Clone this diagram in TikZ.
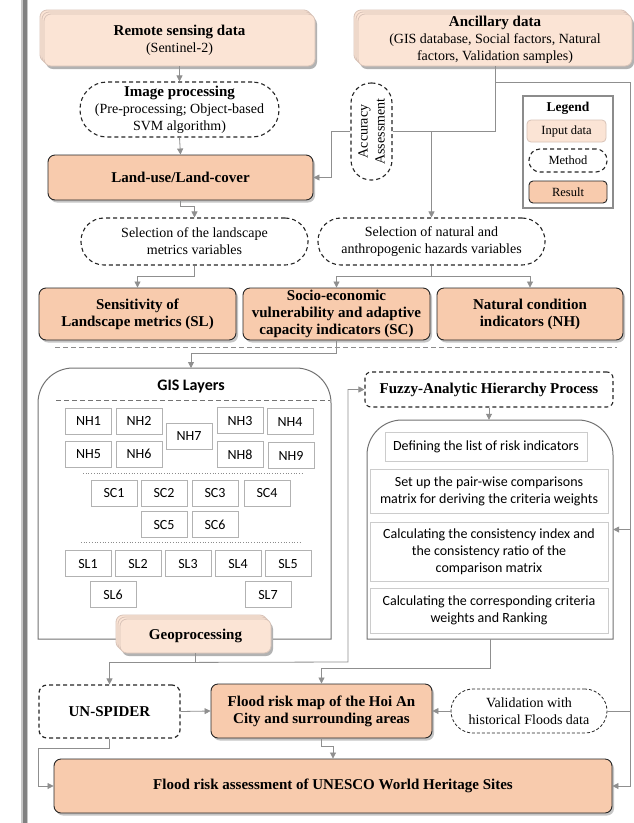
\documentclass[tikz,border=0pt]{standalone}
\usepackage{fontspec}
\setmainfont{Liberation Serif}
\newfontfamily\calibfont{Carlito}
\usetikzlibrary{arrows.meta,shadows}
\definecolor{inc}{HTML}{FBE4D5}
\definecolor{inedge}{HTML}{D8C3B8}
\definecolor{resc}{HTML}{F8CBAD}
\definecolor{lnc}{HTML}{8F8F8F}
\newcommand{\myB}{\fontsize{15}{17}\selectfont\bfseries}
\newcommand{\myR}{\fontsize{14}{17}\selectfont}
\newcommand{\myS}{\calibfont\fontsize{14}{17}\selectfont}
\newcommand{\mySB}{\calibfont\fontsize{16}{18}\selectfont\bfseries}
\newcommand{\myL}{\fontsize{12.5}{14}\selectfont}
\newcommand{\myLB}{\fontsize{13.5}{15}\selectfont\bfseries}
\tikzset{
  inbox/.style={draw=inedge,line width=0.8pt,fill=inc,rounded corners=7pt,inner sep=0pt,align=center,font=\myR},
  resbox/.style={draw=black!85,line width=0.9pt,fill=resc,rounded corners=7pt,inner sep=0pt,align=center,font=\myB},
  resshadow/.style={drop shadow={shadow xshift=2pt,shadow yshift=-2.5pt,fill=black!45}},
  methd/.style={draw=black!85,line width=1.1pt,dash pattern=on 4pt off 3pt,fill=white,inner sep=0pt,align=center,font=\myR},
  gbox/.style={draw=black!30,line width=0.8pt,fill=white,inner sep=0pt,align=center,font=\myS,minimum width=46pt,minimum height=26pt},
  abox/.style={draw=black!20,line width=0.8pt,fill=white,inner sep=0pt,align=center,font=\myS,minimum width=238pt},
  cont/.style={draw=black!55,line width=1pt},
  ln/.style={draw=lnc,line width=0.8pt},
  arr/.style={ln,-{Triangle[length=6pt,width=6pt]}}
}
\newcommand{\stacklayers}[4]{%
  \fill[black!30,rounded corners=7pt] (#1+2,#2+3) rectangle (#3+2,#4+3);
  \filldraw[inbox] (#1-4,#2-4) rectangle (#3-4,#4-4);
  \filldraw[inbox] (#1-2,#2-2) rectangle (#3-2,#4-2);
}
\begin{document}
\begin{tikzpicture}[x=1pt,y=-1pt]
\fill[white] (0,0) rectangle (634,823);
\useasboundingbox (0,0) rectangle (634,823);
% left bar
\fill[black!22] (20.5,0) rectangle (28,823);
\fill[black!50] (22.5,0) rectangle (26.5,823);

% input data
\stacklayers{44}{14}{315}{66}
\node[inbox,minimum width=271pt,minimum height=52pt] (rs) at (179.5,40) {{\myB Remote sensing data}\\(Sentinel-2)};
\stacklayers{358}{14}{632}{66}
\node[inbox,minimum width=274pt,minimum height=52pt] (anc) at (495,40) {{\myB Ancillary data}\\(GIS database, Social factors, Natural\\factors, Validation samples)};

\node[methd,rounded corners=27pt,minimum width=199pt,minimum height=55pt] (imgp) at (179.5,109.5) {{\myB Image processing}\\(Pre-processing; Object-based\\SVM algorithm)};
\node[resbox,resshadow,minimum width=265pt,minimum height=45pt] (lulc) at (180.5,177.5) {Land-use/Land-cover};
\node[methd,rounded corners=20pt,minimum width=41pt,minimum height=97pt] (acc) at (371.5,131.5) {};
\node[rotate=90,align=center,font=\myR,inner sep=0pt] (acctxt) at (acc.center) {Accuracy\\Assessment};

% legend
\node[draw=black!45,line width=1.3pt,minimum width=90pt,minimum height=112pt,inner sep=0pt] (leg) at (568,152) {};
\node[font=\myLB] (legt) at (568,108) {Legend};
\node[inbox,font=\myL,rounded corners=4pt,minimum width=79pt,minimum height=22pt] (legin) at (566.5,131) {Input data};
\node[methd,font=\myL,rounded corners=11pt,minimum width=78pt,minimum height=23pt] (legm) at (568,160.5) {Method};
\node[resbox,font=\myL,rounded corners=4pt,minimum width=78pt,minimum height=22pt] (legr) at (568,192) {Result};

% selections
\node[methd,rounded corners=23pt,minimum width=227pt,minimum height=47pt] (sel1) at (194.5,241.5) {Selection of the landscape\\metrics variables};
\node[methd,rounded corners=23pt,minimum width=227pt,minimum height=47pt] (sel2) at (431.5,241.5) {Selection of natural and\\anthropogenic hazards variables};

% results row
\node[resbox,resshadow,minimum width=197pt,minimum height=52pt] (sl) at (137.5,314) {Sensitivity of\\Landscape metrics (SL)};
\node[resbox,resshadow,minimum width=187pt,minimum height=52pt] (sc) at (336.5,314) {Socio-economic\\vulnerability and adaptive\\capacity indicators (SC)};
\node[resbox,resshadow,minimum width=186pt,minimum height=52pt] (nh) at (530,314) {Natural condition\\indicators (NH)};

\draw[black!45,line width=0.9pt,dash pattern=on 5pt off 3pt] (55,347) -- (617,347);

% GIS container
\node[minimum width=293pt,minimum height=271pt,inner sep=0pt] (gis) at (184.5,503.5) {};
\draw[cont] (38,639) -- (38,403) arc[start angle=180,end angle=90,radius=35pt] -- (296,368) arc[start angle=90,end angle=0,radius=35pt] -- (331,639) -- cycle;
\node[font=\mySB] (gist) at (191,387) {GIS Layers};
\draw[black!55,line width=0.9pt,dash pattern=on 5pt off 3pt] (56,400) -- (330,400);
\node[gbox] (nh1) at (88.5,421) {NH1};
\node[gbox] (nh2) at (139,421) {NH2};
\node[gbox] (nh7) at (189,436.5) {NH7};
\node[gbox] (nh3) at (240,420.5) {NH3};
\node[gbox] (nh4) at (290,421.5) {NH4};
\node[gbox] (nh5) at (88.5,454) {NH5};
\node[gbox] (nh6) at (139,454) {NH6};
\node[gbox] (nh8) at (240,454.5) {NH8};
\node[gbox] (nh9) at (291,455.5) {NH9};
\draw[black!45,line width=0.7pt,dotted] (83,473) -- (304,473);
\node[gbox] (sc1) at (114,493) {SC1};
\node[gbox] (sc2) at (164,493) {SC2};
\node[gbox] (sc3) at (215,493) {SC3};
\node[gbox] (sc4) at (267,493) {SC4};
\node[gbox] (sc5) at (164,524.5) {SC5};
\node[gbox] (sc6) at (215,524.5) {SC6};
\draw[black!45,line width=0.7pt,dotted] (81,542) -- (302,542);
\node[gbox] (sl1) at (88,563.5) {SL1};
\node[gbox] (sl2) at (138,563.5) {SL2};
\node[gbox] (sl3) at (188,563.5) {SL3};
\node[gbox] (sl4) at (238,563.5) {SL4};
\node[gbox] (sl5) at (288,563.5) {SL5};
\node[gbox] (sl6) at (113,594.5) {SL6};
\node[gbox] (sl7) at (268,594.5) {SL7};
\stacklayers{120}{619}{271}{653}
\node[inbox,font=\myB,minimum width=151pt,minimum height=34pt] (geo) at (195.5,636) {Geoprocessing};

% AHP
\node[methd,font=\myB,rounded corners=6pt,minimum width=248pt,minimum height=35pt] (fahp) at (489,389.5) {Fuzzy-Analytic Hierarchy Process};
\node[minimum width=246pt,minimum height=219pt,inner sep=0pt] (ahp) at (490,529.5) {};
\draw[cont] (367,639) -- (367,455) arc[start angle=180,end angle=90,radius=35pt] -- (578,420) arc[start angle=90,end angle=0,radius=35pt] -- (613,639) -- cycle;
\node[abox,minimum width=202pt,minimum height=29pt] (a1) at (486,446.5) {Defining the list of risk indicators};
\node[abox,minimum height=44pt] (a2) at (489,491) {Set up the pair-wise comparisons\\matrix for deriving the criteria weights};
\node[abox,minimum height=59pt] (a3) at (489,551.5) {Calculating the consistency index and\\the consistency ratio of the\\comparison matrix};
\node[abox,minimum height=45pt] (a4) at (489,610.5) {Calculating the corresponding criteria\\weights and Ranking};

% bottom
\node[methd,font=\myB,rounded corners=8pt,line width=1.2pt,minimum width=141pt,minimum height=53pt] (unsp) at (109.5,711.5) {UN-SPIDER};
\node[resbox,resshadow,minimum width=221pt,minimum height=54pt] (fmap) at (321.5,711) {Flood risk map of the Hoi An\\City and surrounding areas};
\node[methd,line width=0.8pt,dash pattern=on 3pt off 2pt,rounded corners=22pt,minimum width=156pt,minimum height=44pt] (val) at (529,711) {Validation with\\historical Floods data};
\node[resbox,resshadow,minimum width=558pt,minimum height=54pt] (fin) at (333,786) {Flood risk assessment of UNESCO World Heritage Sites};

% connectors
\coordinate (r1) at (630,82);
\coordinate (r2) at (630,786);
\draw[arr] (rs.south) -- (imgp.north);
\draw[arr] (imgp.south) -- (lulc.north);
\draw[arr] (anc.south) |- (r1) -- (r2) -- (fin.east);
\draw[arr] (ahp.east -| r1) -- (ahp.east);
\draw[ln] (val.east) -- (val.east -| r1);
\draw[ln] (anc.south) |- (acc.east);
\coordinate (j1) at (sel2.north |- acc.east);
\draw[arr] (j1) -- (sel2.north);
\draw[arr] (acc.west) -- ++(-19,0) |- (lulc.east);
\draw[arr] (lulc.south) -- ++(0,6) -| (sel1.north);
\draw[arr] (sel1.south) -- ++(0,11) -| (sl.north);
\draw[ln] (sel2.south) -- ++(0,11) coordinate (j2);
\draw[arr] (j2) -| (sc.north);
\draw[arr] (j2) -| (nh.north);
\coordinate (gtop) at (191,368);
\draw[arr] (sc.south) -- ++(0,13) -| (gtop);
\draw[ln] (geo.south) -- ++(0,9) coordinate (j3);
\draw[arr] (j3) -| (unsp.north);
\coordinate (j4) at (348,662);
\draw[arr] (j3) -- (j4) |- (fahp.west);
\draw[arr] (fahp.south) -- (fahp.south |- ahp.north);
\draw[arr] (ahp.south) -- ++(0,29) -| (fmap.north);
\draw[arr] (unsp.east) -- (fmap.west);
\draw[arr] (val.west) -- (fmap.east);
\draw[arr] (unsp.south) -- ++(0,10) -| ([xshift=-15pt]fin.west) -- (fin.west);
\draw[arr] (fmap.south) -- ++(0,8) -| (fin.north);
\end{tikzpicture}
\end{document}
